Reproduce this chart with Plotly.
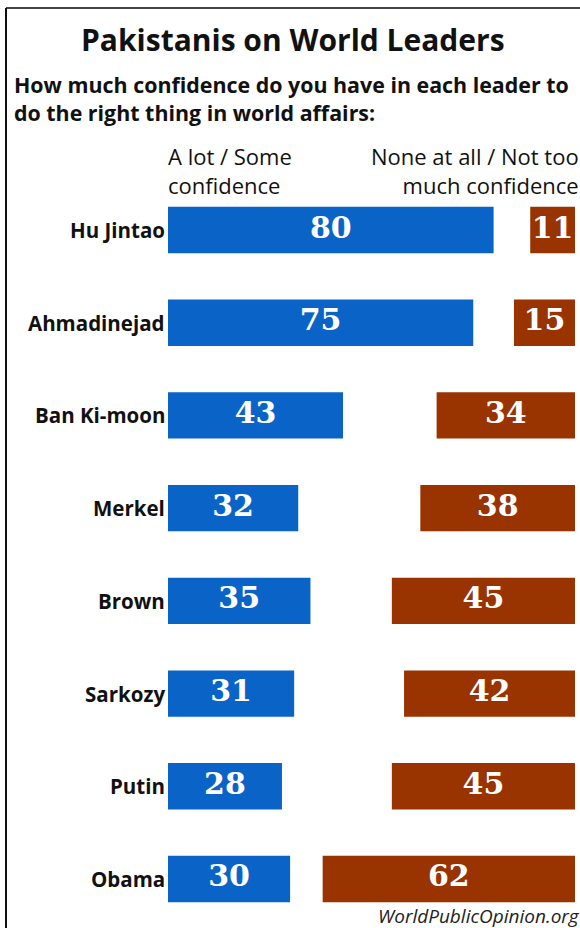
import plotly.graph_objects as go

leaders = ["Hu Jintao", "Ahmadinejad", "Ban Ki-moon", "Merkel", "Brown", "Sarkozy", "Putin", "Obama"]
confidence = [80, 75, 43, 32, 35, 31, 28, 30]
no_confidence = [11, 15, 34, 38, 45, 42, 45, 62]

W, H = 580, 928
BLUE = "#0a64c8"
RUST = "#993300"
SANS = "Open Sans"
NUM_FONT = "DejaVu Serif"

# pixel layout: value 0 sits at x=168, 100 at x=575
k = 4.07
x_range = [-168 / k, (W - 168) / k]
step = 92.7
y_range = [7 + (H - 879) / step, -230 / step]

rows = list(range(len(leaders)))


def py(px):
    return 1 - px / H


def pxx(px):
    return px / W


fig = go.Figure()
fig.add_trace(go.Bar(y=rows, x=confidence, base=0, orientation="h", width=0.5,
                     marker=dict(color=BLUE, line=dict(width=0)), hoverinfo="skip"))
fig.add_trace(go.Bar(y=rows, x=no_confidence, base=[100 - v for v in no_confidence],
                     orientation="h", width=0.5,
                     marker=dict(color=RUST, line=dict(width=0)), hoverinfo="skip"))

# numbers inside the bars
num_font = dict(family=NUM_FONT, size=30, color="white", weight="bold")
fig.add_trace(go.Scatter(y=rows, x=[v / 2 for v in confidence], mode="text",
                         text=[str(v) for v in confidence], textposition="middle center",
                         textfont=num_font, hoverinfo="skip"))
fig.add_trace(go.Scatter(y=rows, x=[100 - v / 2 for v in no_confidence], mode="text",
                         text=[str(v) for v in no_confidence], textposition="middle center",
                         textfont=num_font, hoverinfo="skip"))

annotations = []
for i, name in enumerate(leaders):
    annotations.append(dict(x=0, y=i, xref="x", yref="y", text=name, showarrow=False,
                            xanchor="right", yanchor="middle", xshift=-1,
                            font=dict(family=SANS, size=20.5, color="#111", weight="bold")))

head = dict(family=SANS, size=22, color="#111")
annotations += [
    dict(x=pxx(293), y=py(39), text="Pakistanis on World Leaders", xanchor="center",
         font=dict(family=SANS, size=30, color="#111", weight="bold")),
    dict(x=pxx(12), y=py(98.5), align="left", xanchor="left",
         text="How much confidence do you have in each leader to<br>do the right thing in world affairs:",
         font=dict(family=SANS, size=21.4, color="#111", weight="bold")),
    dict(x=pxx(166), y=py(170.5), text="A lot / Some<br>confidence", xanchor="left",
         align="left", font=head),
    dict(x=pxx(581), y=py(170.5), text="None at all / Not too<br>much confidence", xanchor="right",
         align="right", font=head),
    dict(x=pxx(376), y=py(916), text="<i>WorldPublicOpinion.org</i>", xanchor="left",
         font=dict(family=SANS, size=19, color="#222")),
]
for a in annotations[len(leaders):]:
    a.update(xref="paper", yref="paper", showarrow=False, yanchor="middle")

fig.update_layout(
    width=W, height=H,
    margin=dict(l=0, r=0, t=0, b=0),
    paper_bgcolor="white", plot_bgcolor="white",
    showlegend=False, barmode="overlay",
    annotations=annotations,
    shapes=[
        dict(type="line", xref="paper", yref="paper", x0=pxx(6), x1=1, y0=py(8), y1=py(8),
             line=dict(color="#444", width=2)),
        dict(type="line", xref="paper", yref="paper", x0=pxx(6), x1=pxx(6), y0=py(8), y1=0,
             line=dict(color="#111", width=2)),
    ],
)
fig.update_xaxes(range=x_range, visible=False, fixedrange=True)
fig.update_yaxes(range=y_range, visible=False, fixedrange=True)

fig.write_html("out.html", config={"displayModeBar": False},
               post_script="document.body.style.margin='0';document.body.style.overflow='hidden';")
